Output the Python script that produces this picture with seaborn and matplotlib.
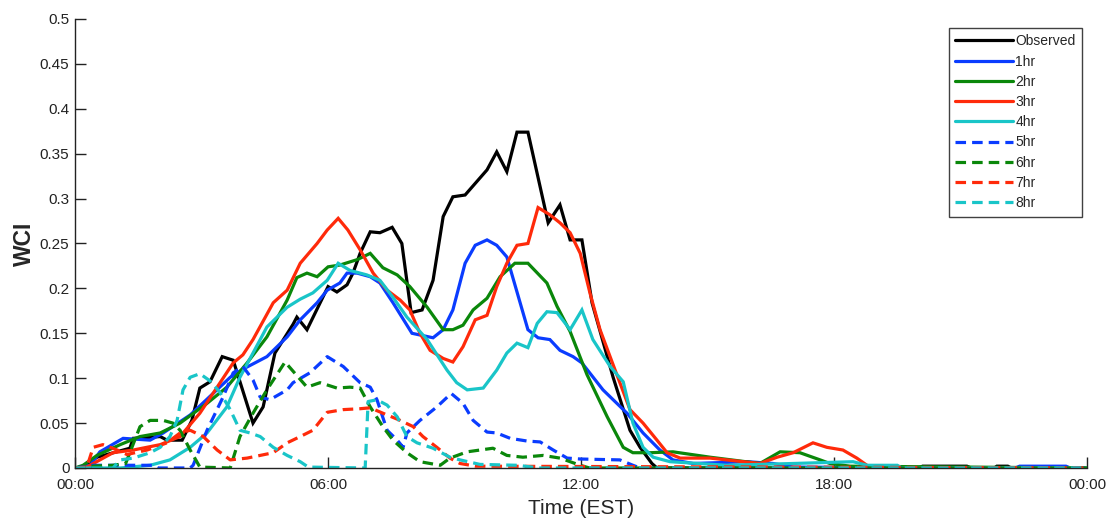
import matplotlib
matplotlib.use("Agg")
import matplotlib.pyplot as plt
import seaborn as sns
import pandas as pd

# Time stamps (hours after midnight EST) and WCI values per series
obs_t = [0, 0.15, 0.52, 1.3, 1.38, 2.02, 2.18, 2.54, 2.77, 2.96, 3.2, 3.49, 3.75, 4.22, 4.46, 4.74,
         5.17, 5.26, 5.5, 6.0, 6.21, 6.45, 6.59, 6.76, 7.0, 7.23, 7.52, 7.75, 7.97, 8.23, 8.49, 8.73,
         8.96, 9.25, 9.77, 10.0, 10.24, 10.48, 10.74, 11.22, 11.5, 11.74, 12.02, 12.26, 12.76, 13.16,
         13.4, 13.68, 13.8, 20.0, 20.1, 21.15, 21.25, 21.8, 21.86, 22.12, 22.2, 24]
obs_v = [0, 0, 0.012, 0.022, 0.033, 0.035, 0.031, 0.031, 0.053, 0.089, 0.096, 0.124, 0.12, 0.05,
         0.068, 0.128, 0.16, 0.168, 0.154, 0.202, 0.196, 0.204, 0.217, 0.239, 0.263, 0.262, 0.268,
         0.25, 0.173, 0.176, 0.209, 0.28, 0.302, 0.304, 0.332, 0.352, 0.33, 0.374, 0.374, 0.273,
         0.293, 0.254, 0.254, 0.184, 0.101, 0.042, 0.023, 0.005, 0, 0, 0.002, 0.002, 0, 0, 0.002,
         0.002, 0, 0]

h1_t = [0, 0.36, 0.59, 1.14, 1.78, 2.09, 2.73, 3.68, 3.98, 4.55, 5.03, 5.34, 5.74, 5.98, 6.28,
        6.45, 6.69, 7.0, 7.23, 7.54, 7.99, 8.49, 8.73, 8.96, 9.25, 9.49, 9.77, 10.0, 10.24, 10.74,
        10.98, 11.26, 11.5, 11.81, 12.02, 12.52, 13.09, 13.47, 13.87, 14.18, 14.66, 15.94, 16.55,
        17.03, 22.3, 22.4, 23.5, 23.6, 24]
h1_v = [0, 0.003, 0.018, 0.033, 0.031, 0.039, 0.059, 0.101, 0.11, 0.124, 0.146, 0.165, 0.184,
        0.198, 0.206, 0.217, 0.217, 0.213, 0.206, 0.184, 0.15, 0.145, 0.154, 0.176, 0.228, 0.248,
        0.254, 0.248, 0.235, 0.154, 0.145, 0.143, 0.131, 0.124, 0.117, 0.087, 0.061, 0.039, 0.02,
        0.009, 0.005, 0.007, 0.005, 0.001, 0, 0.002, 0.002, 0, 0]

h2_t = [0, 0.19, 0.52, 1.07, 1.54, 2.02, 2.49, 3.13, 3.6, 4.08, 4.55, 5.03, 5.26, 5.5, 5.74, 6.0,
        6.28, 6.69, 7.0, 7.3, 7.64, 7.94, 8.35, 8.73, 8.96, 9.2, 9.44, 9.77, 10.08, 10.43, 10.74,
        11.19, 11.43, 11.74, 12.14, 12.62, 13.0, 13.23, 13.64, 14.18, 15.06, 16.24, 16.72, 17.19,
        17.67, 17.9, 18.38, 24]
h2_v = [0, 0.003, 0.014, 0.026, 0.035, 0.039, 0.05, 0.072, 0.09, 0.117, 0.146, 0.187, 0.212, 0.217,
        0.213, 0.224, 0.226, 0.232, 0.239, 0.223, 0.215, 0.202, 0.179, 0.154, 0.154, 0.159, 0.176,
        0.189, 0.213, 0.228, 0.228, 0.206, 0.18, 0.152, 0.104, 0.057, 0.023, 0.017, 0.017, 0.018,
        0.012, 0.005, 0.018, 0.017, 0.009, 0.005, 0.002, 0]

h3_t = [0, 0.28, 0.59, 0.9, 1.38, 2.02, 2.49, 2.96, 3.44, 3.75, 3.98, 4.22, 4.7, 5.03, 5.34, 5.74,
        5.98, 6.24, 6.47, 6.76, 7.07, 7.4, 7.71, 7.94, 8.18, 8.42, 8.73, 8.96, 9.2, 9.49, 9.77, 10.0,
        10.24, 10.48, 10.74, 10.98, 11.26, 11.5, 11.74, 11.98, 12.21, 12.45, 12.76, 13.16, 13.47,
        13.8, 14.04, 14.35, 15.06, 16.24, 16.65, 17.03, 17.5, 17.83, 18.21, 18.54, 18.78, 19.0, 24]
h3_v = [0, 0.001, 0.009, 0.017, 0.02, 0.026, 0.035, 0.061, 0.095, 0.117, 0.126, 0.143, 0.184,
        0.198, 0.228, 0.25, 0.265, 0.278, 0.265, 0.243, 0.217, 0.198, 0.187, 0.176, 0.15, 0.131,
        0.122, 0.118, 0.135, 0.165, 0.17, 0.202, 0.228, 0.248, 0.25, 0.29, 0.282, 0.273, 0.262,
        0.239, 0.195, 0.154, 0.115, 0.065, 0.05, 0.031, 0.017, 0.011, 0.011, 0.005, 0.012, 0.017,
        0.028, 0.023, 0.02, 0.011, 0.003, 0, 0]

h4_t = [0, 1.07, 1.78, 2.25, 2.73, 3.13, 3.6, 3.91, 4.22, 4.55, 5.03, 5.34, 5.64, 5.98, 6.24, 6.52,
        6.92, 7.23, 7.54, 7.87, 8.35, 8.82, 9.05, 9.3, 9.68, 10.0, 10.24, 10.48, 10.74, 10.96, 11.19,
        11.43, 11.74, 12.02, 12.28, 12.69, 13.0, 13.23, 13.47, 13.71, 14.11, 15.46, 17.03, 18.45,
        18.78, 19.5, 19.6, 24]
h4_v = [0, 0, 0.003, 0.009, 0.023, 0.039, 0.068, 0.101, 0.128, 0.157, 0.179, 0.188, 0.195, 0.209,
        0.228, 0.22, 0.215, 0.209, 0.19, 0.168, 0.143, 0.109, 0.095, 0.087, 0.089, 0.109, 0.128,
        0.139, 0.134, 0.161, 0.174, 0.173, 0.154, 0.176, 0.143, 0.113, 0.096, 0.05, 0.023, 0.012,
        0.007, 0.003, 0.005, 0.007, 0.003, 0.003, 0, 0]

h5_t = [0, 0.43, 1.85, 1.97, 2.73, 2.8, 3.13, 3.51, 3.75, 3.98, 4.22, 4.39, 4.62, 5.03, 5.17, 5.57,
        5.98, 6.36, 6.76, 7.0, 7.16, 7.4, 7.64, 7.78, 7.87, 8.18, 8.58, 8.92, 9.2, 9.44, 9.77, 10.0,
        10.32, 10.72, 11.03, 11.34, 11.67, 11.98, 12.92, 13.23, 13.4, 24]
h5_v = [0, 0.003, 0.003, 0, 0, 0.003, 0.042, 0.079, 0.106, 0.113, 0.098, 0.079, 0.076, 0.087, 0.095,
        0.106, 0.124, 0.113, 0.095, 0.09, 0.076, 0.042, 0.031, 0.023, 0.039, 0.053, 0.068, 0.083,
        0.072, 0.053, 0.04, 0.039, 0.033, 0.03, 0.029, 0.02, 0.011, 0.01, 0.009, 0.003, 0, 0]

h6_t = [0, 0.43, 0.9, 1.2, 1.54, 1.78, 2.09, 2.32, 2.49, 2.73, 2.96, 3.68, 3.91, 4.22, 4.55, 4.98,
        5.5, 5.81, 6.21, 6.52, 6.76, 7.0, 7.3, 7.54, 7.87, 8.18, 8.66, 8.89, 9.3, 9.91, 10.24, 10.62,
        11.1, 11.5, 11.98, 12.2, 24]
h6_v = [0, 0.002, 0.003, 0.005, 0.046, 0.053, 0.053, 0.05, 0.042, 0.02, 0.001, 0, 0.035, 0.061,
        0.087, 0.118, 0.09, 0.095, 0.089, 0.09, 0.089, 0.068, 0.046, 0.031, 0.017, 0.007, 0.003,
        0.011, 0.018, 0.022, 0.014, 0.012, 0.014, 0.011, 0.003, 0, 0]

h7_t = [0, 0.28, 0.43, 0.66, 1.0, 1.23, 1.71, 2.18, 2.49, 2.73, 3.04, 3.37, 3.68, 4.08, 4.39, 4.7,
        5.03, 5.34, 5.64, 5.98, 6.36, 6.76, 7.0, 7.3, 7.71, 8.02, 8.25, 8.58, 8.89, 9.13, 9.5, 24]
h7_v = [0, 0.001, 0.023, 0.026, 0.02, 0.015, 0.02, 0.028, 0.039, 0.042, 0.035, 0.02, 0.009, 0.011,
        0.014, 0.017, 0.028, 0.035, 0.042, 0.062, 0.065, 0.066, 0.067, 0.061, 0.053, 0.046, 0.035,
        0.023, 0.011, 0.005, 0.002, 0]

h8_t = [0, 0.9, 1.07, 1.38, 1.78, 2.02, 2.25, 2.42, 2.56, 2.73, 2.96, 3.2, 3.44, 3.68, 3.91, 4.15,
        4.39, 4.7, 5.03, 5.34, 5.53, 6.88, 6.95, 7.16, 7.4, 7.64, 7.87, 8.11, 8.49, 8.89, 9.13, 9.6,
        10.5, 11.0, 24]
h8_v = [0, 0, 0.009, 0.011, 0.017, 0.023, 0.035, 0.053, 0.087, 0.101, 0.105, 0.097, 0.084, 0.065,
        0.042, 0.039, 0.035, 0.023, 0.014, 0.007, 0.001, 0, 0.074, 0.076, 0.07, 0.057, 0.035, 0.028,
        0.022, 0.012, 0.009, 0.004, 0.003, 0, 0]

labels = ["Observed", "1hr", "2hr", "3hr", "4hr", "5hr", "6hr", "7hr", "8hr"]
series = [(obs_t, obs_v), (h1_t, h1_v), (h2_t, h2_v), (h3_t, h3_v), (h4_t, h4_v),
          (h5_t, h5_v), (h6_t, h6_v), (h7_t, h7_v), (h8_t, h8_v)]

x_ticks = [0, 6, 12, 18, 24]
x_tick_labels = ["00:00", "06:00", "12:00", "18:00", "00:00"]
y_ticks = [0, 0.05, 0.1, 0.15, 0.2, 0.25, 0.3, 0.35, 0.4, 0.45, 0.5]
y_tick_labels = ["0", "0.05", "0.1", "0.15", "0.2", "0.25", "0.3", "0.35", "0.4", "0.45", "0.5"]

black, blue, green, red, cyan = "#000000", "#0a3cff", "#0a870a", "#ff2a0a", "#19c5c8"
colors = [black, blue, green, red, cyan, blue, green, red, cyan]
dashed = [False] * 5 + [True] * 4

sns.set_style("ticks")
plt.rcParams["font.family"] = ["Liberation Sans", "DejaVu Sans"]

fig = plt.figure(figsize=(11.07, 5.19), dpi=100)
ax = fig.add_axes([0.0678, 0.0983, 0.9142, 0.8651])

for (t, v), lab, col, dsh in zip(series, labels, colors, dashed):
    df = pd.DataFrame({"t": t, "v": v})
    sns.lineplot(data=df, x="t", y="v", ax=ax, color=col, label=lab,
                 linewidth=2.3, sort=False)
    ln = ax.get_lines()[-1]
    if dsh:
        ln.set_linestyle((0, (3.3, 1.9)))
    ln.set_solid_joinstyle("miter")

ax.set_xlim(0, 24)
ax.set_ylim(0, 0.5)
ax.set_xticks(x_ticks)
ax.set_xticklabels(x_tick_labels)
ax.set_yticks(y_ticks)
ax.set_yticklabels(y_tick_labels)
ax.tick_params(axis="both", direction="in", length=8, width=1, labelsize=11, colors="#222222")
ax.tick_params(axis="x", pad=7)
ax.tick_params(axis="y", pad=4)
for s in ["top", "right"]:
    ax.spines[s].set_visible(False)
for s in ["left", "bottom"]:
    ax.spines[s].set_color("#222222")
    ax.spines[s].set_linewidth(1.0)

ax.set_xlabel("Time (EST)", fontsize=15, labelpad=5)
ax.set_ylabel("WCI", fontsize=16.5, fontweight="bold", labelpad=3)

leg = ax.legend(loc="upper right", bbox_to_anchor=(1082 / 1107, 1 - 28 / 519),
                bbox_transform=fig.transFigure, fontsize=10, handlelength=4.2,
                handletextpad=0.15, labelspacing=0.45, borderpad=0.45, fancybox=False,
                frameon=True, borderaxespad=0)
leg.get_frame().set_edgecolor("#111111")
leg.get_frame().set_linewidth(1.0)

fig.savefig("out.png", dpi=100)
